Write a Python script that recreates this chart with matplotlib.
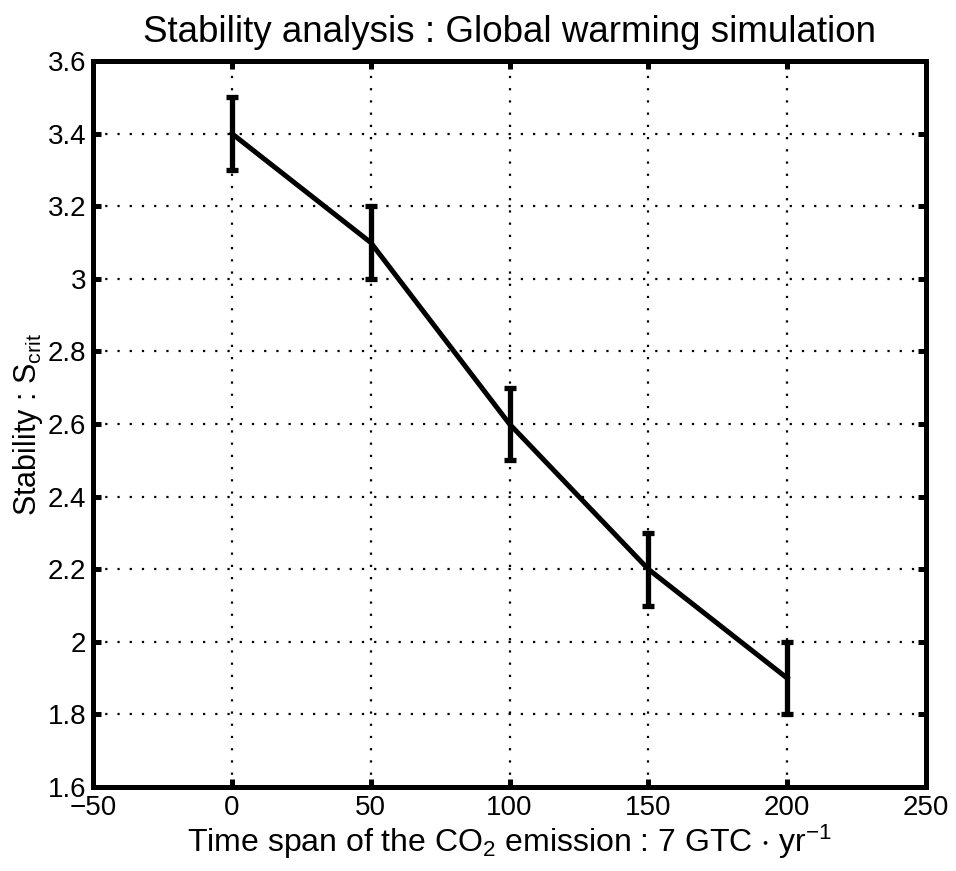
import matplotlib
matplotlib.use("Agg")
import matplotlib.pyplot as plt

plt.rcParams['font.family'] = ['Liberation Sans', 'DejaVu Sans']
plt.rcParams['mathtext.fontset'] = 'custom'
plt.rcParams['mathtext.rm'] = 'Liberation Sans'
plt.rcParams['mathtext.it'] = 'Liberation Sans'
plt.rcParams['mathtext.default'] = 'regular'

# emission time span vs critical stability
span = [0, 50, 100, 150, 200]
s_crit = [3.4, 3.1, 2.6, 2.2, 1.9]
s_err = [0.1, 0.1, 0.1, 0.1, 0.1]

xticks = [-50, 0, 50, 100, 150, 200, 250]
xtick_labels = ['\u221250', '0', '50', '100', '150', '200', '250']
yticks = [1.6, 1.8, 2.0, 2.2, 2.4, 2.6, 2.8, 3.0, 3.2, 3.4, 3.6]
ytick_labels = ['1.6', '1.8', '2', '2.2', '2.4', '2.6', '2.8', '3', '3.2', '3.4', '3.6']

fig = plt.figure(figsize=(9.56, 8.71), dpi=100)
ax = fig.add_axes([0.0973, 0.0964, 0.8713, 0.8336])

ax.errorbar(span, s_crit, yerr=s_err, color='black', lw=3.6,
            elinewidth=3.8, capsize=4.5, capthick=3.8, zorder=3)

ax.set_xlim(-50, 250)
ax.set_ylim(1.6, 3.6)
ax.set_xticks(xticks)
ax.set_xticklabels(xtick_labels)
ax.set_yticks(yticks)
ax.set_yticklabels(ytick_labels)
ax.grid(True, color='black', linestyle=(0, (1, 4.5)), linewidth=1.6)

for sp in ax.spines.values():
    sp.set_linewidth(3.6)
ax.tick_params(direction='in', length=6, width=3.6, labelsize=20, pad=5,
               top=True, right=True)
ax.tick_params(axis='x', pad=6)

ax.set_title('Stability analysis : Global warming simulation', fontsize=26.5, pad=14)
ax.set_xlabel(r'Time span of the CO$_2$ emission : 7 GTC $\cdot$ yr$^{-1}$',
              fontsize=23, labelpad=1)
ax.set_ylabel(r'Stability : S$_{crit}$', fontsize=22, labelpad=2)

fig.savefig('out.png', dpi=100, facecolor='white')
